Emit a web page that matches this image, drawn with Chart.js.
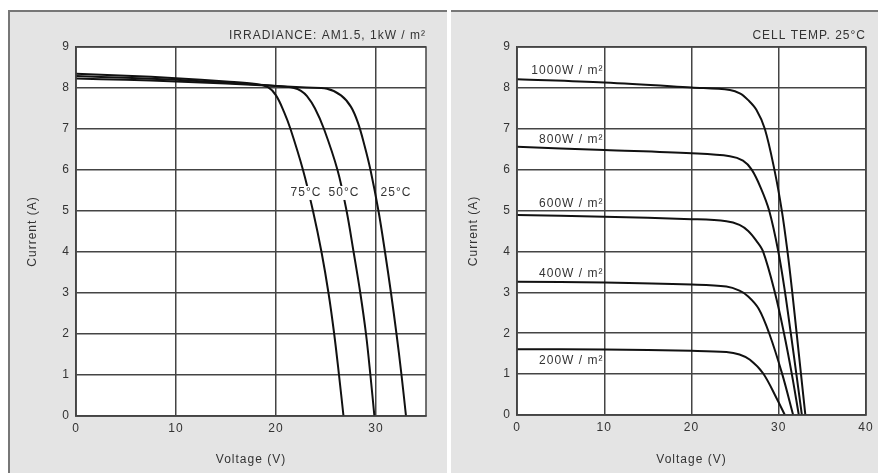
<!DOCTYPE html>
<html>
<head>
<meta charset="utf-8">
<script src="https://cdn.jsdelivr.net/npm/chart.js@4"></script>
<style>
  body { margin: 0; background: #fff; }
  .panel { position: absolute; background: #e4e4e4; height: 461px; }
  #left { left: 8px; top: 10px; width: 437px; border-left: 2px solid #777; border-top: 2px solid #777; }
  #right { left: 451px; top: 10px; width: 427px; border-top: 2px solid #777; }
  canvas { display: block; }
</style>
</head>
<body>
<div id="left" class="panel"><canvas id="tempChart" width="437" height="461"></canvas></div>
<div id="right" class="panel"><canvas id="irrChart" width="427" height="461"></canvas></div>
<script>
// temperature curves (left), voltage V / current A
const t25V = [0, 5, 10, 15, 20, 23, 25.1, 26.5, 27.5, 28.2, 28.85, 29.45, 30.25, 30.9, 31.5, 32.05, 32.55, 33.0];
const t25I = [8.23, 8.2, 8.16, 8.11, 8.05, 8.01, 7.98, 7.82, 7.54, 7.15, 6.6, 6.0, 5.0, 4.0, 3.0, 2.0, 1.0, 0];
const t50V = [0, 5, 10, 15, 20, 21.8, 22.5, 23.1, 23.9, 24.8, 26.15, 27.06, 27.76, 28.43, 29.0, 29.44, 29.84];
const t50I = [8.29, 8.25, 8.2, 8.13, 8.05, 8.0, 7.93, 7.8, 7.5, 7.0, 6.0, 5.0, 4.0, 3.0, 2.0, 1.0, 0];
const t75V = [0, 5, 10, 15, 18, 19.2, 20, 20.8, 21.45, 22.7, 23.7, 24.55, 25.25, 25.82, 26.3, 26.75];
const t75I = [8.35, 8.3, 8.24, 8.16, 8.1, 8.02, 7.82, 7.42, 7.0, 6.0, 5.0, 4.0, 3.0, 2.0, 1.0, 0];

// irradiance curves (right)
const w1000V = [0, 10, 20, 24.4, 25.6, 26.5, 27.45, 28.4, 29.5, 30.35, 31.0, 31.55, 32.05, 32.55, 33.05];
const w1000I = [8.21, 8.13, 8.01, 7.95, 7.86, 7.7, 7.46, 7.0, 6.0, 5.0, 4.0, 3.0, 2.0, 1.0, 0];
const w800V = [0, 10, 20, 24.4, 25.9, 26.9, 27.95, 28.9, 29.95, 30.72, 31.38, 32.02, 32.65];
const w800I = [6.56, 6.48, 6.40, 6.33, 6.22, 6.0, 5.55, 5.0, 4.0, 3.0, 2.0, 1.0, 0];
const w600V = [0, 10, 20, 24, 25.5, 26.5, 27.4, 28.2, 29.55, 30.6, 31.5, 32.3];
const w600I = [4.89, 4.85, 4.79, 4.74, 4.65, 4.5, 4.27, 4.0, 3.0, 2.0, 1.0, 0];
const w400V = [0, 10, 20, 24, 25.5, 26.5, 27.7, 28.9, 30.4, 31.65];
const w400I = [3.26, 3.24, 3.19, 3.14, 3.04, 2.9, 2.6, 2.0, 1.0, 0];
const w200V = [0, 10, 20, 24, 25.5, 26.7, 28.2, 29.75, 30.7];
const w200I = [1.61, 1.60, 1.57, 1.54, 1.48, 1.35, 1.02, 0.41, 0];

const tempLabels = ['75°C', '50°C', '25°C'];
const tempLabelV = [23.0, 26.8, 32.0];
const tempLabelI = [5.44, 5.44, 5.44];
const irrLabels = ['1000W / m²', '800W / m²', '600W / m²', '400W / m²', '200W / m²'];
const irrLabelI = [8.41, 6.74, 5.18, 3.46, 1.33];
const irrLabelV = 9.9;

const FONT = '12px "Liberation Sans", Arial, sans-serif';
const GRID = '#444';

function toPoints(xs, ys) {
    return xs.map((x, i) => ({ x: x, y: ys[i] }));
}

function curve(xs, ys) {
    return {
        data: toPoints(xs, ys),
        showLine: true,
        borderColor: '#111',
        borderWidth: 2,
        pointRadius: 0,
        tension: 0.35
    };
}

// white plot area, letter spacing, frame and texts
function panelPlugin(cfg) {
    return {
        id: 'panel',
        beforeDraw(chart) {
            const ctx = chart.ctx;
            const a = chart.chartArea;
            ctx.fillStyle = '#fff';
            ctx.fillRect(a.left, a.top, a.right - a.left, a.bottom - a.top);
            ctx.letterSpacing = '1px';
        },
        afterDraw(chart) {
            const ctx = chart.ctx;
            const a = chart.chartArea;
            const xs = chart.scales.x;
            const ys = chart.scales.y;
            ctx.save();
            ctx.letterSpacing = '1px';
            ctx.strokeStyle = GRID;
            ctx.lineWidth = 1.5;
            ctx.strokeRect(a.left, a.top, a.right - a.left, a.bottom - a.top);

            ctx.font = FONT;
            ctx.fillStyle = '#333';
            ctx.textBaseline = 'middle';

            ctx.textAlign = 'right';
            ctx.fillText(cfg.title, a.right, 24);

            ctx.textAlign = 'center';
            ctx.fillText('Voltage (V)', (a.left + a.right) / 2, 448);

            ctx.save();
            ctx.translate(23, (a.top + a.bottom) / 2);
            ctx.rotate(-Math.PI / 2);
            ctx.fillText('Current (A)', 0, 0);
            ctx.restore();

            cfg.labels.forEach((txt, i) => {
                const px = xs.getPixelForValue(cfg.labelV[i]);
                const py = ys.getPixelForValue(cfg.labelI[i]);
                const w = ctx.measureText(txt).width;
                ctx.textAlign = cfg.align;
                if (cfg.boxed) {
                    ctx.fillStyle = '#fff';
                    ctx.fillRect(px - w / 2 - 2, py - 7, w + 4, 14);
                    ctx.fillStyle = '#333';
                }
                ctx.fillText(txt, px, py);
            });
            ctx.restore();
        }
    };
}

function makeChart(id, datasets, xMax, padRight, xHeight, plugin) {
    const ctx = document.getElementById(id).getContext('2d');
    return new Chart(ctx, {
        type: 'scatter',
        data: { datasets: datasets },
        options: {
            responsive: false,
            animation: false,
            devicePixelRatio: 1,
            layout: { padding: { top: 35, right: padRight, left: 0, bottom: 0 } },
            plugins: { legend: { display: false }, tooltip: { enabled: false } },
            scales: {
                x: {
                    type: 'linear',
                    min: 0,
                    max: xMax,
                    afterFit(scale) { scale.height = xHeight; },
                    grid: { color: GRID, lineWidth: 1.5, drawTicks: false },
                    border: { color: GRID, width: 1.5 },
                    ticks: { stepSize: 10, includeBounds: false, padding: 5, color: '#333', font: { family: '"Liberation Sans", Arial, sans-serif', size: 12 } }
                },
                y: {
                    type: 'linear',
                    min: 0,
                    max: 9,
                    afterFit(scale) { scale.width = 66; },
                    grid: { color: GRID, lineWidth: 1.5, drawTicks: false },
                    border: { color: GRID, width: 1.5 },
                    ticks: { stepSize: 1, padding: 6, color: '#333', font: { family: '"Liberation Sans", Arial, sans-serif', size: 12 } }
                }
            }
        },
        plugins: [plugin]
    });
}

makeChart('tempChart', [
    curve(t25V, t25I),
    curve(t50V, t50I),
    curve(t75V, t75I)
], 35, 21, 57, panelPlugin({
    title: 'IRRADIANCE: AM1.5, 1kW / m²',
    labels: tempLabels,
    labelV: tempLabelV,
    labelI: tempLabelI,
    align: 'center',
    boxed: true
}));

makeChart('irrChart', [
    curve(w1000V, w1000I),
    curve(w800V, w800I),
    curve(w600V, w600I),
    curve(w400V, w400I),
    curve(w200V, w200I)
], 40, 12, 58, panelPlugin({
    title: 'CELL TEMP. 25°C',
    labels: irrLabels,
    labelV: irrLabels.map(() => irrLabelV),
    labelI: irrLabelI,
    align: 'right',
    boxed: false
}));
</script>
</body>
</html>
